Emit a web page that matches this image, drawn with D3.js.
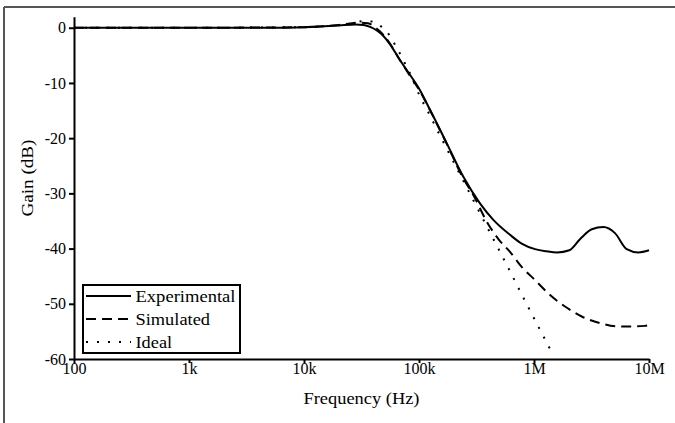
<!DOCTYPE html>
<html>
<head>
<meta charset="utf-8">
<script src="https://cdn.jsdelivr.net/npm/d3@7"></script>
</head>
<body style="margin:0;background:#fff">
<svg width="675" height="423" style="display:block"></svg>
<script>
// Frequency ticks and their labels
var freqTicks = [1e2, 1e3, 1e4, 1e5, 1e6, 1e7];
var freqLabels = ['100', '1k', '10k', '100k', '1M', '10M'];
var gainTicks = [0, -10, -20, -30, -40, -50, -60];

// Experimental response (Hz, dB)
var expFreq = [100, 1000, 5000, 10000, 20000, 28000, 33000, 38000, 43000, 49000, 56000, 68000, 84000,
  100000, 125000, 174000, 243000, 339000, 443000, 618000, 781000, 1020000, 1290000, 1590000,
  2030000, 2510000, 3180000, 4010000, 5060000, 6400000, 8070000, 10000000];
var expGain = [0, 0, 0, 0.1, 0.4, 0.6, 0.5, 0.1, -0.5, -1.5, -3.0, -5.8, -8.6,
  -11.0, -14.9, -20.9, -27.0, -31.8, -34.8, -37.5, -39.1, -40.1, -40.5, -40.7,
  -40.3, -38.3, -36.5, -36.1, -37.2, -40.1, -40.7, -40.3];

// Simulated response
var simFreq = [100, 1000, 10000, 20000, 30000, 36000, 42000, 49000, 56000, 68000, 84000,
  100000, 125000, 174000, 243000, 300000, 388000, 500000, 618000, 781000, 1020000,
  1380000, 1860000, 2600000, 3750000, 5400000, 7300000, 9200000, 10000000];
var simGain = [0, 0, 0.1, 0.5, 0.9, 0.8, 0, -1.3, -2.9, -5.8, -8.8,
  -11.2, -15.0, -21.0, -27.3, -30.5, -35.1, -38.5, -40.6, -43.3, -45.7,
  -48.4, -50.5, -52.3, -53.5, -54.1, -54.1, -54.0, -53.9];

// Ideal response
var idealFreq = [100, 1000, 10000, 13000, 16000, 20500, 26000, 32000, 40000, 47000, 56000, 63000,
  71000, 78000, 87000, 94000, 104000, 117000, 143000, 234000, 296000, 444000, 618000,
  851000, 1180000, 1460000];
var idealGain = [0, 0, 0.1, 0.2, 0.3, 0.5, 0.7, 1.2, 1.1, 0.2, -1.5, -3.4,
  -5.3, -7.1, -9.0, -10.8, -12.8, -14.8, -18.4, -27.1, -31.2, -38.3, -44.1,
  -49.8, -55.5, -59.2];

var seriesNames = ['Experimental', 'Simulated', 'Ideal'];
var legendWidths = [100, 74.5, 36.6];

var FONT = 'Liberation Serif';

var svg = d3.select('svg');

var x = d3.scaleLog().domain([100, 1e7]).range([74, 649]);
var y = d3.scaleLinear().domain([-60, 2]).range([359, 16.7]);

// Figure frame (top and left)
svg.append('line').attr('x1', 4).attr('x2', 675).attr('y1', 7).attr('y2', 7)
  .attr('stroke', '#555').attr('stroke-width', 2);
svg.append('line').attr('x1', 4).attr('x2', 4).attr('y1', 7).attr('y2', 423)
  .attr('stroke', '#555').attr('stroke-width', 2);

// Axes
function styleAxis(g) {
  g.attr('font-family', FONT).attr('font-size', 16);
  g.selectAll('path, line').attr('stroke', '#000').attr('stroke-width', 2);
  g.selectAll('text').attr('fill', '#000')
    .attr('font-family', FONT).attr('font-size', 16);
}

svg.append('g')
  .attr('transform', 'translate(0,359)')
  .call(d3.axisBottom(x).tickValues(freqTicks)
    .tickFormat((d, i) => freqLabels[i]).tickSize(4).tickSizeOuter(0).tickPadding(0))
  .call(styleAxis);

svg.append('g')
  .attr('transform', 'translate(74,0)')
  .call(d3.axisLeft(y).tickValues(gainTicks)
    .tickFormat(d => String(d)).tickSize(5).tickSizeOuter(0).tickPadding(3))
  .call(styleAxis);

// Curves
var line = d3.line()
  .x(d => x(d[0]))
  .y(d => y(d[1]))
  .curve(d3.curveMonotoneX);

var series = [
  {f: expFreq, g: expGain, dash: null},
  {f: simFreq, g: simGain, dash: '10,6'},
  {f: idealFreq, g: idealGain, dash: '2,9'}
];

series.forEach(s => {
  svg.append('path')
    .datum(d3.zip(s.f, s.g))
    .attr('fill', 'none')
    .attr('stroke', '#000')
    .attr('stroke-width', 2)
    .attr('stroke-dasharray', s.dash)
    .attr('d', line);
});

// Axis titles
svg.append('text')
  .attr('x', 361.5).attr('y', 404)
  .attr('text-anchor', 'middle')
  .attr('textLength', 116).attr('lengthAdjust', 'spacingAndGlyphs')
  .attr('font-family', FONT).attr('font-size', 16.5)
  .text('Frequency (Hz)');

svg.append('text')
  .attr('transform', 'translate(32.5,178) rotate(-90)')
  .attr('text-anchor', 'middle')
  .attr('textLength', 77).attr('lengthAdjust', 'spacingAndGlyphs')
  .attr('font-family', FONT).attr('font-size', 16.5)
  .text('Gain (dB)');

// Legend
var legend = svg.append('g');
legend.append('rect')
  .attr('x', 83).attr('y', 285).attr('width', 157).attr('height', 68)
  .attr('fill', '#fff').attr('stroke', '#000').attr('stroke-width', 2);

seriesNames.forEach((name, i) => {
  var ly = 296 + i * 23;
  legend.append('line')
    .attr('x1', 86).attr('x2', 131).attr('y1', ly).attr('y2', ly)
    .attr('stroke', '#000').attr('stroke-width', 2)
    .attr('stroke-dasharray', series[i].dash);
  legend.append('text')
    .attr('x', 135.5).attr('y', ly + 6)
    .attr('textLength', legendWidths[i]).attr('lengthAdjust', 'spacingAndGlyphs')
    .attr('font-family', FONT).attr('font-size', 16.5)
    .text(name);
});
</script>
</body>
</html>
